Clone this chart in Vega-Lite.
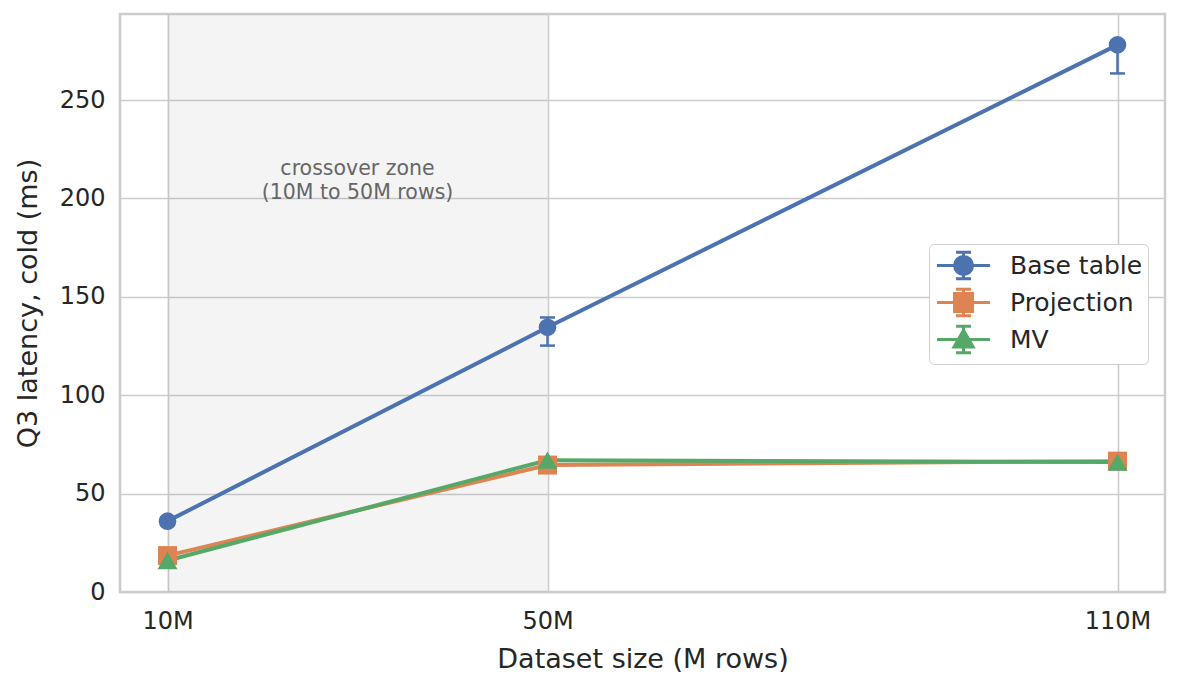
{
  "$schema": "https://vega.github.io/schema/vega-lite/v6.json",
  "width": 1045,
  "height": 578,
  "autosize": "none",
  "padding": {"left": 120, "top": 14, "right": 15, "bottom": 95},
  "background": "white",
  "config": {
    "font": "DejaVu Sans",
    "view": {"stroke": "#cccccc", "strokeWidth": 2.5},
    "axis": {
      "domain": false,
      "ticks": false,
      "grid": true,
      "gridColor": "#cccccc",
      "gridWidth": 1.6,
      "labelFont": "DejaVu Sans",
      "labelFontSize": 24,
      "labelColor": "#262626",
      "titleFont": "DejaVu Sans",
      "titleFontSize": 27,
      "titleFontWeight": "normal",
      "titleColor": "#262626"
    }
  },
  "datasets": {
    "latency": [
      {"series": "Base table", "rows": 10, "ms": 36, "lo": 34, "hi": 38},
      {"series": "Base table", "rows": 50, "ms": 134.5, "lo": 125.2, "hi": 139.5},
      {"series": "Base table", "rows": 110, "ms": 278, "lo": 263.5, "hi": 280},
      {"series": "Projection", "rows": 10, "ms": 18.5, "lo": 17, "hi": 20},
      {"series": "Projection", "rows": 50, "ms": 64.5, "lo": 63, "hi": 66},
      {"series": "Projection", "rows": 110, "ms": 66.5, "lo": 65.5, "hi": 67.5},
      {"series": "MV", "rows": 10, "ms": 16, "lo": 15, "hi": 17},
      {"series": "MV", "rows": 50, "ms": 67, "lo": 66, "hi": 68},
      {"series": "MV", "rows": 110, "ms": 66, "lo": 65, "hi": 67}
    ],
    "zone": [
      {"start": 10, "end": 50, "mid": 30, "label_y": 215, "label": "crossover zone\n(10M to 50M rows)"}
    ]
  },
  "layer": [
    {
      "data": {"name": "zone"},
      "mark": {"type": "rect", "fill": "#808080", "opacity": 0.085},
      "encoding": {
        "x": {
          "field": "start", "type": "quantitative",
          "scale": {"domain": [5, 115], "nice": false, "zero": false},
          "axis": {"title": "Dataset size (M rows)", "values": [10, 50, 110], "labelExpr": "datum.value + 'M'", "labelPadding": 17, "titlePadding": 13}
        },
        "x2": {"field": "end"}
      }
    },
    {
      "data": {"name": "zone"},
      "mark": {"type": "text", "fontSize": 20.5, "color": "#666666", "align": "center", "baseline": "middle", "lineBreak": "\n", "lineHeight": 24},
      "encoding": {
        "x": {"field": "mid", "type": "quantitative"},
        "y": {
          "field": "label_y", "type": "quantitative", "title": "Q3 latency, cold (ms)",
          "scale": {"domain": [0, 293.7], "nice": false},
          "axis": {"title": "Q3 latency, cold (ms)", "values": [0, 50, 100, 150, 200, 250], "labelPadding": 15, "titlePadding": 17}
        },
        "text": {"field": "label"}
      }
    },
    {
      "data": {"name": "latency"},
      "encoding": {
        "x": {"field": "rows", "type": "quantitative", "title": "Dataset size (M rows)"},
        "color": {
          "field": "series", "type": "nominal",
          "scale": {"domain": ["Base table", "Projection", "MV"], "range": ["#4c72b0", "#dd8452", "#55a868"]},
          "legend": {
            "title": null,
            "orient": "none",
            "legendX": 809,
            "legendY": 230,
            "fillColor": "white",
            "strokeColor": "#d0d0d0",
            "cornerRadius": 5,
            "padding": 5,
            "labelFontSize": 25,
            "labelColor": "#262626",
            "labelFont": "DejaVu Sans",
            "labelOffset": 43,
            "rowPadding": -2,
            "symbolSize": 900,
            "symbolStrokeWidth": 3,
            "symbolOpacity": 1,
            "encode": {
              "symbols": {
                "update": {
                  "shape": {"signal": "datum.value === 'Base table' ? 'M-0.9,0H2.64M0.87,-0.89V0.89M0.37,-0.89H1.37M0.37,0.89H1.37M0.27,0A0.6,0.6,0,1,0,1.47,0A0.6,0.6,0,1,0,0.27,0Z' : datum.value === 'Projection' ? 'M-0.9,0H2.64M0.87,-0.89V0.89M0.37,-0.89H1.37M0.37,0.89H1.37M0.27,-0.6H1.47V0.6H0.27Z' : 'M-0.9,0H2.64M0.87,-0.89V0.89M0.37,-0.89H1.37M0.37,0.89H1.37M0.87,-0.62L1.51,0.5L0.23,0.5Z'"},
                  "size": {"value": 900},
                  "strokeWidth": {"value": 3}
                }
              }
            }
          }
        }
      },
      "layer": [
        {
          "mark": {"type": "line", "strokeWidth": 4},
          "encoding": {
            "y": {"field": "ms", "type": "quantitative", "title": "Q3 latency, cold (ms)"},
            "detail": {"field": "series"}
          }
        },
        {
          "mark": {"type": "errorbar", "ticks": {"size": 15, "thickness": 2.5, "opacity": 1}, "rule": {"strokeWidth": 2.5, "opacity": 1}, "thickness": 2.5},
          "encoding": {
            "y": {"field": "lo", "type": "quantitative", "title": "Q3 latency, cold (ms)"},
            "y2": {"field": "hi"}
          }
        },
        {
          "transform": [{"filter": "datum.series === 'Base table'"}],
          "mark": {"type": "point", "filled": true, "opacity": 1, "shape": "circle", "size": 310},
          "encoding": {"y": {"field": "ms", "type": "quantitative", "title": "Q3 latency, cold (ms)"}}
        },
        {
          "transform": [{"filter": "datum.series === 'Projection'"}],
          "mark": {"type": "point", "filled": true, "opacity": 1, "shape": "square", "size": 360},
          "encoding": {"y": {"field": "ms", "type": "quantitative", "title": "Q3 latency, cold (ms)"}}
        },
        {
          "transform": [{"filter": "datum.series === 'MV'"}],
          "mark": {"type": "point", "filled": true, "opacity": 1, "shape": "triangle-up", "size": 400},
          "encoding": {"y": {"field": "ms", "type": "quantitative", "title": "Q3 latency, cold (ms)"}}
        }
      ]
    }
  ]
}
